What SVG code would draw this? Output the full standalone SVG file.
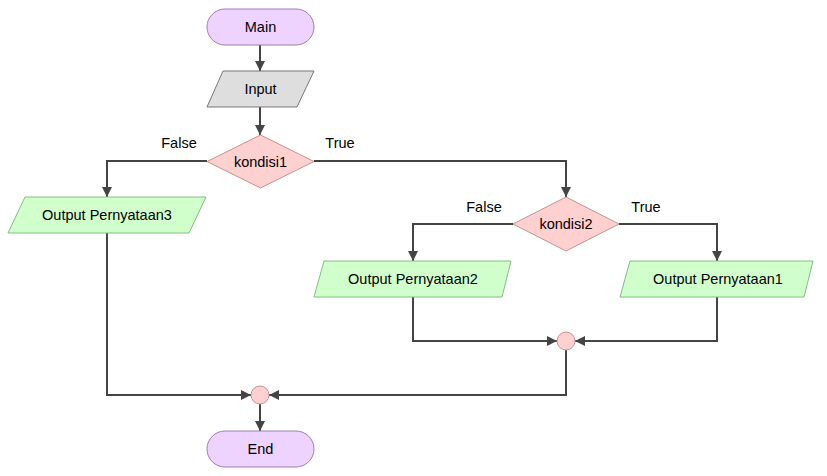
<svg xmlns="http://www.w3.org/2000/svg" width="827" height="476" viewBox="0 0 827 476">
<defs>
<marker id="ah" viewBox="0 0 10 10" refX="10" refY="5" markerWidth="10" markerHeight="10" markerUnits="userSpaceOnUse" orient="auto">
<path d="M0,0 L10,5 L0,10 z" fill="#444"/>
</marker>
<style>
text{font-family:"Liberation Sans",Arial,sans-serif;font-size:14.5px;fill:#000;}
.c{text-anchor:middle;dominant-baseline:central;}
.term{fill:#EED2FF;stroke:#A07DB0;stroke-width:1;}
.inp{fill:#DEDEDE;stroke:#777;stroke-width:1;}
.dec{fill:#FFD0D0;stroke:#C89090;stroke-width:1;}
.out{fill:#D0FFCC;stroke:#80C080;stroke-width:1;}
.jn{fill:#FFD0D0;stroke:#C89090;stroke-width:1;}
.ln{fill:none;stroke:#444;stroke-width:2;marker-end:url(#ah);}
</style>
</defs>
<g id="connectors">
<path class="ln" d="M260,45 L260,71"/>
<path class="ln" d="M260,107 L260,135"/>
<path class="ln" d="M207,161 L107,161 L107,197"/>
<path class="ln" d="M314,161 L566,161 L566,197"/>
<path class="ln" d="M513,224 L413,224 L413,261"/>
<path class="ln" d="M619,224 L717,224 L717,261"/>
<path class="ln" d="M413,297 L413,341 L557,341"/>
<path class="ln" d="M717,297 L717,341 L575,341"/>
<path class="ln" d="M566,350 L566,395 L269,395"/>
<path class="ln" d="M107,233 L107,395 L251,395"/>
<path class="ln" d="M260,404 L260,431"/>
<text x="179" y="143" class="c">False</text>
<text x="340" y="143" class="c">True</text>
<text x="484" y="207" class="c">False</text>
<text x="646" y="207" class="c">True</text>
</g>
<g id="main">
<rect class="term" x="207" y="9" width="107" height="36" rx="18" ry="18"/>
<text x="260.5" y="27" class="c">Main</text>
</g>
<g id="input">
<polygon class="inp" points="223,71 314,71 297,107 207,107"/>
<text x="260.5" y="89" class="c">Input</text>
</g>
<g id="kondisi1">
<polygon class="dec" points="260.5,135 314,161.5 260.5,188 207,161.5"/>
<text x="260.5" y="161.5" class="c">kondisi1</text>
</g>
<g id="output3">
<polygon class="out" points="25,197 206,197 189,233 8,233"/>
<text x="107" y="215" class="c">Output Pernyataan3</text>
</g>
<g id="kondisi2">
<polygon class="dec" points="566,197 619,224 566,251 513,224"/>
<text x="566" y="224" class="c">kondisi2</text>
</g>
<g id="output2">
<polygon class="out" points="324,261 511,261 502,297 314,297"/>
<text x="413" y="279" class="c">Output Pernyataan2</text>
</g>
<g id="output1">
<polygon class="out" points="630,261 813,261 804,297 620,297"/>
<text x="718" y="279" class="c">Output Pernyataan1</text>
</g>
<g id="junction2">
<circle class="jn" cx="566" cy="341" r="9"/>
</g>
<g id="junction1">
<circle class="jn" cx="260" cy="395" r="9"/>
</g>
<g id="end">
<rect class="term" x="207" y="431" width="107" height="36" rx="18" ry="18"/>
<text x="260.5" y="449" class="c">End</text>
</g>
</svg>
